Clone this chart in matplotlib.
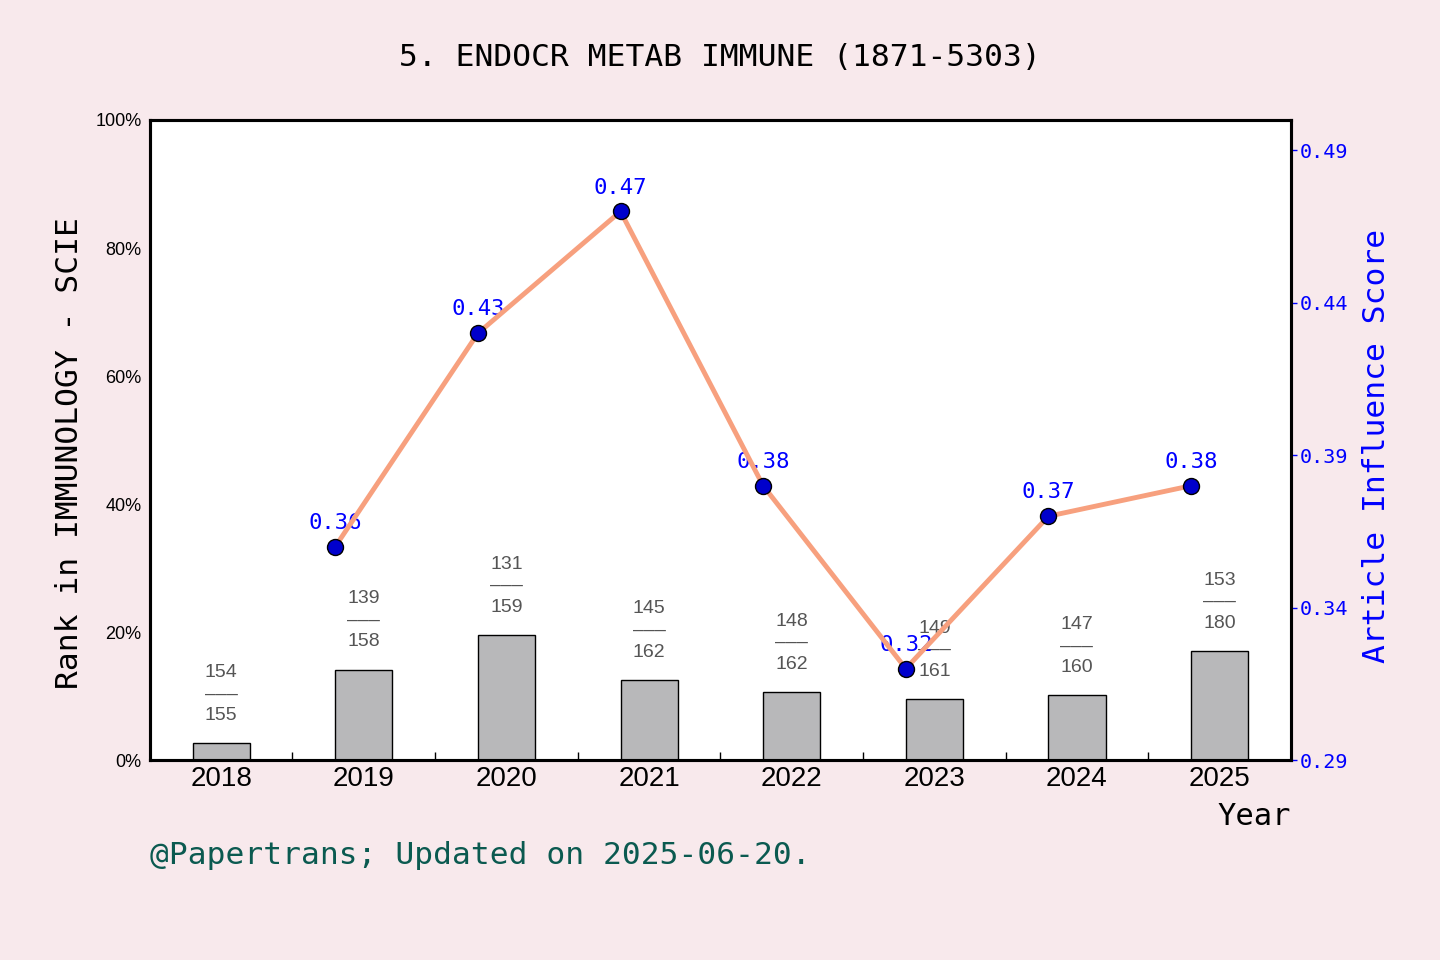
import matplotlib
matplotlib.use("Agg")
import matplotlib.pyplot as plt
import numpy as np
from matplotlib.ticker import FuncFormatter, FixedLocator

years = ["2018", "2019", "2020", "2021", "2022", "2023", "2024", "2025"]
rank_pct = [2.6, 14.1, 19.5, 12.5, 10.6, 9.5, 10.1, 17.0]
rank_num = [154, 139, 131, 145, 148, 149, 147, 153]
rank_tot = [155, 158, 159, 162, 162, 161, 160, 180]
ais_years = ["2019", "2020", "2021", "2022", "2023", "2024", "2025"]
ais = [0.36, 0.43, 0.47, 0.38, 0.32, 0.37, 0.38]
ais_ticks = [0.29, 0.34, 0.39, 0.44, 0.49]

mono = "DejaVu Sans Mono"
sans = "Liberation Sans"
bg = "#f8e9ec"
bar_w = 0.4

fig = plt.figure(figsize=(14.4, 9.6), dpi=100, facecolor=bg)
ax = fig.add_axes([0.104, 0.2083, 0.7925, 0.6667])
ax.set_facecolor("white")

x = np.arange(len(years))
ax.bar(x, rank_pct, width=bar_w, color="#b8b8ba", edgecolor="black", linewidth=1, zorder=2)
for xi, p, r, t in zip(x, rank_pct, rank_num, rank_tot):
    ax.annotate(f"{r}\n\u2012\u2012\u2012\n{t}", (xi, p), xytext=(0, 14), textcoords="offset points",
                ha="center", va="bottom", fontsize=14, family=sans, color="#555555",
                linespacing=1.35, zorder=3)

ax.set_xlim(-0.5, 7.5)
ax.set_ylim(0, 100)
ax.set_xticks(x)
ax.set_xticklabels(years, fontsize=20, family=sans)
ax.xaxis.set_minor_locator(FixedLocator(x[:-1] + 0.5))
ax.tick_params(axis="x", which="major", length=0, pad=4)
ax.tick_params(axis="x", which="minor", length=6, direction="in", width=1)
ax.set_yticks([0, 20, 40, 60, 80, 100])
ax.yaxis.set_major_formatter(FuncFormatter(lambda v, _: f"{int(v)}%"))
ax.tick_params(axis="y", length=0, pad=6, labelsize=13)
for lab in ax.get_yticklabels():
    lab.set_family(sans)
for s in ax.spines.values():
    s.set_linewidth(2.2)
ax.set_ylabel("Rank in IMMUNOLOGY - SCIE", fontsize=22.5, family=mono)
ax.yaxis.set_label_coords(-0.058, 0.48)

# line points sit half a bar to the left of each bar centre
ax2 = ax.twinx()
xa = [years.index(y) - bar_w / 2 for y in ais_years]
ax2.plot(xa, ais, color="#f7a07e", linewidth=3.5, zorder=3)
ax2.plot(xa, ais, "o", markersize=11.5, markerfacecolor="#0000cc",
         markeredgecolor="black", markeredgewidth=1, zorder=5)
for xi, v in zip(xa, ais):
    ax2.annotate(f"{v:.2f}", (xi, v), xytext=(0, 10), textcoords="offset points",
                 ha="center", va="bottom", fontsize=16, family=mono, color="#0000ff", zorder=1)
ax2.set_ylim(0.29, 0.50)
ax2.set_yticks(ais_ticks)
ax2.yaxis.set_major_formatter(FuncFormatter(lambda v, _: f"{v:.2f}"))
ax2.tick_params(axis="y", colors="#0000ff", length=4, width=1, pad=2, labelsize=14.5)
for lab in ax2.get_yticklabels():
    lab.set_family(mono)
for s in ax2.spines.values():
    s.set_linewidth(2.2)
ax2.set_ylabel("Article Influence Score", fontsize=22.5, family=mono, color="#0000ff")
ax2.yaxis.set_label_coords(1.062, 0.49)

fig.text(0.5, 0.94, "5. ENDOCR METAB IMMUNE (1871-5303)", ha="center", va="center",
         fontsize=22.5, family=mono)
fig.text(0.8965, 0.149, "Year", ha="right", va="center", fontsize=22, family=mono)
fig.text(0.104, 0.109, "@Papertrans; Updated on 2025-06-20.", ha="left", va="center",
         fontsize=22.5, family=mono, color="#0b5a50")

fig.savefig("out.png", dpi=100, facecolor=bg)
